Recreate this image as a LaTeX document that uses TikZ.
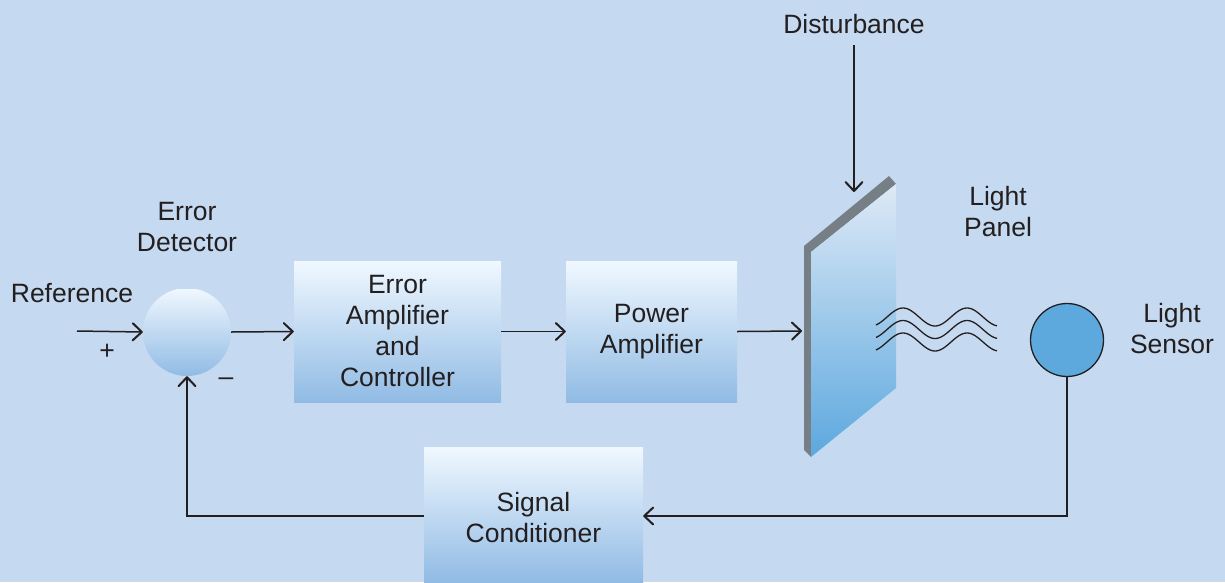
\documentclass[tikz,border=0pt]{standalone}
\usepackage{fontspec}
\setmainfont{Liberation Sans}
\usetikzlibrary{arrows.meta}
\definecolor{bg}{RGB}{197,218,240}
\definecolor{ink}{RGB}{35,31,32}
\definecolor{boxtop}{RGB}{240,248,255}
\definecolor{boxbot}{RGB}{145,187,228}
\definecolor{paneltop}{RGB}{222,233,246}
\definecolor{panelbot}{RGB}{92,168,222}
\definecolor{paneledge}{RGB}{118,126,134}
\definecolor{sensor}{RGB}{93,168,220}
\tikzset{
  block/.style={draw=none, top color=boxtop, bottom color=boxbot, inner sep=0pt, align=center},
  lbl/.style={text=ink, align=center, inner sep=0pt},
  wire/.style={draw=ink, line width=1.5pt},
  flow/.style={wire, -{Straight Barb[length=9pt,width=17pt,line width=2pt,round]}},
}
\begin{document}
\begin{tikzpicture}[x=1pt, y={(0,-1pt)}, font=\fontsize{26.5}{31}\selectfont]
  \fill[bg] (0,0) rectangle (1225,582);
  \useasboundingbox (0,0) rectangle (1225,582);

  % summing junction (flattened slightly on top)
  \begin{scope}
    \clip (100,289) rectangle (280,400);
    \shade[top color=boxtop, bottom color=boxbot] (187,332) circle (44);
  \end{scope}
  \node[minimum size=88pt, circle, inner sep=0pt] (sum) at (187,332) {};
  \coordinate (refin) at (77,331);

  % forward blocks
  \node[block, minimum width=207pt, minimum height=141pt] (ctrl) at (397.5,331.5) {};
  \node[lbl] at (397.5,331.5) {Error\\Amplifier\\and\\Controller};
  \node[block, minimum width=171pt, minimum height=141pt] (pamp) at (651.5,331.5) {};
  \node[lbl] at (651.5,332) {Power\\Amplifier};

  % feedback block
  \node[block, minimum width=219pt, minimum height=135pt] (cond) at (533.5,514.5) {};
  \node[lbl] at (533.5,518) {Signal\\Conditioner};

  % light panel
  \fill[paneledge] (804,246) -- (889,176) -- (896,184) -- (811,252) -- (811,457) -- (804,450) -- cycle;
  \shade[top color=paneltop, bottom color=panelbot] (811,252) -- (896,184) -- (896,388) -- (811,457) -- cycle;
  \coordinate (panelin) at (802,331);
  \coordinate (paneltopc) at (854,192);
  \coordinate (distsrc) at (854,45);

  % emitted light
  \foreach \k in {0,1,2}
    \draw[ink, line width=1.3pt] plot[domain=876:997, samples=80, smooth]
      (\x, {317 + 12.5*\k - 9*cos(5.625*(\x-903))});

  % light sensor
  \node[circle, draw=ink, line width=1.3pt, fill=sensor, minimum size=73pt, inner sep=0pt] (sens) at (1067,340) {};

  % labels
  \node[lbl] at (72,293) {Reference};
  \node[lbl] at (107,352) {+};
  \node[lbl] at (226,382) {--};
  \node[lbl] at (187,227) {Error\\Detector};
  \node[lbl] at (854,24) {Disturbance};
  \node[lbl] at (998,212) {Light\\Panel};
  \node[lbl] at (1172,329) {Light\\Sensor};

  % signal paths
  \draw[flow] (refin) -- (sum.west);
  \draw[flow] (sum.east) -- (ctrl.west);
  \draw[flow] (ctrl.east) -- (pamp.west);
  \draw[flow] (pamp.east) -- (panelin);
  \draw[flow] (distsrc) -- (paneltopc);
  \draw[flow] (sens.south) |- (cond.east |- 0,516);
  \draw[flow] (cond.west |- 0,516) -| (sum.south);
\end{tikzpicture}
\end{document}
